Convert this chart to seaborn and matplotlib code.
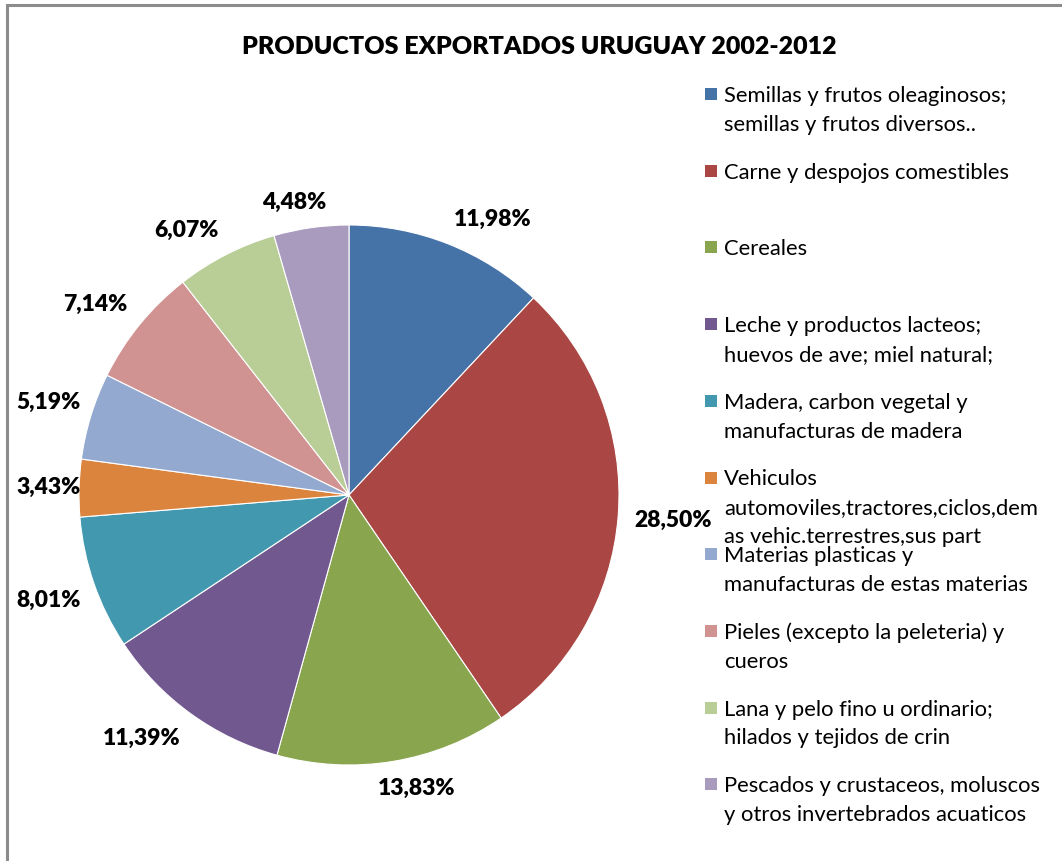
import numpy as np
import matplotlib
matplotlib.use("Agg")
import matplotlib.pyplot as plt
from matplotlib.patches import Rectangle
import seaborn as sns

# Export shares by product group, Uruguay 2002-2012 (percent)
productos = [
    "Semillas y frutos oleaginosos;\nsemillas y frutos diversos..",
    "Carne y despojos comestibles",
    "Cereales",
    "Leche y productos lacteos;\nhuevos de ave; miel natural;",
    "Madera, carbon vegetal y\nmanufacturas de madera",
    "Vehiculos\nautomoviles,tractores,ciclos,dem\nas vehic.terrestres,sus part",
    "Materias plasticas y\nmanufacturas de estas materias",
    "Pieles (excepto la peleteria) y\ncueros",
    "Lana y pelo fino u ordinario;\nhilados y tejidos de crin",
    "Pescados y crustaceos, moluscos\ny otros invertebrados acuaticos",
]
porcentajes = [11.98, 28.50, 13.83, 11.39, 8.01, 3.43, 5.19, 7.14, 6.07, 4.48]
colores = ["#4572A7", "#AA4643", "#89A54E", "#71588F", "#4198AF",
           "#DB843D", "#93A9CF", "#D19392", "#B9CD96", "#A99BBD"]
titulo = "PRODUCTOS EXPORTADOS URUGUAY 2002-2012"

sns.set_theme(style="white")
plt.rcParams["font.family"] = ["Lato", "DejaVu Sans"]
paleta = sns.color_palette(colores)

W, H = 1062, 862
fig = plt.figure(figsize=(W / 100, H / 100), dpi=100)
fig.patch.set_facecolor("white")

# chart frame (left and top edges visible)
fig.patches.append(Rectangle((7 / W, -0.1), 1.2, (H - 6) / H + 0.1,
                             transform=fig.transFigure, fill=False,
                             edgecolor="#8c8c8c", linewidth=2.2))

# pie axes: centre (349, 496) px, radius 270 px
cx, cy, R = 349, 496, 270
ax = fig.add_axes([(cx - R) / W, (H - cy - R) / H, 2 * R / W, 2 * R / H])
wedges, _ = ax.pie(porcentajes, colors=paleta, startangle=90, counterclock=False,
                   radius=1.0, wedgeprops=dict(edgecolor="white", linewidth=0.8))
ax.set_xlim(-1, 1)
ax.set_ylim(-1, 1)
ax.set_aspect("equal")
ax.axis("off")

fig.text(539 / W, 1 - 47 / H, titulo, ha="center", va="center",
         fontsize=18, fontweight="heavy", color="black")

# percentage labels outside each slice
etiquetas = []
for w, p in zip(wedges, porcentajes):
    ang = np.deg2rad((w.theta1 + w.theta2) / 2)
    t = ax.text(1.06 * np.cos(ang), 1.06 * np.sin(ang),
                f"{p:.2f}%".replace(".", ","), ha="center", va="center",
                fontsize=16.5, fontweight="heavy", color="black")
    etiquetas.append((t, ang))

fig.canvas.draw()
renderer = fig.canvas.get_renderer()
inv = ax.transData.inverted()
for t, ang in etiquetas:
    bb = t.get_window_extent(renderer)
    px, py = ax.transData.transform(t.get_position())
    c, s = np.cos(ang), np.sin(ang)
    px += bb.width / 2 * np.clip(c / 0.3, -1, 1)
    py += bb.height / 2 * np.clip(s / 0.3, -1, 1)
    # keep labels inside the chart frame
    left = px - bb.width / 2
    if left < 16:
        px += 16 - left
    t.set_position(inv.transform((px, py)))

# legend: square marker + wrapped text per product
for i, (nombre, col) in enumerate(zip(productos, paleta)):
    y = 95 + i * 76.7
    fig.patches.append(Rectangle((705 / W, 1 - (y + 6) / H), 12 / W, 12 / H,
                                 transform=fig.transFigure, facecolor=col,
                                 edgecolor="none"))
    fig.text(724 / W, 1 - (y - 9) / H, nombre, ha="left", va="top",
             fontsize=15.8, color="black", linespacing=1.55)

fig.savefig("out.png", dpi=100)
